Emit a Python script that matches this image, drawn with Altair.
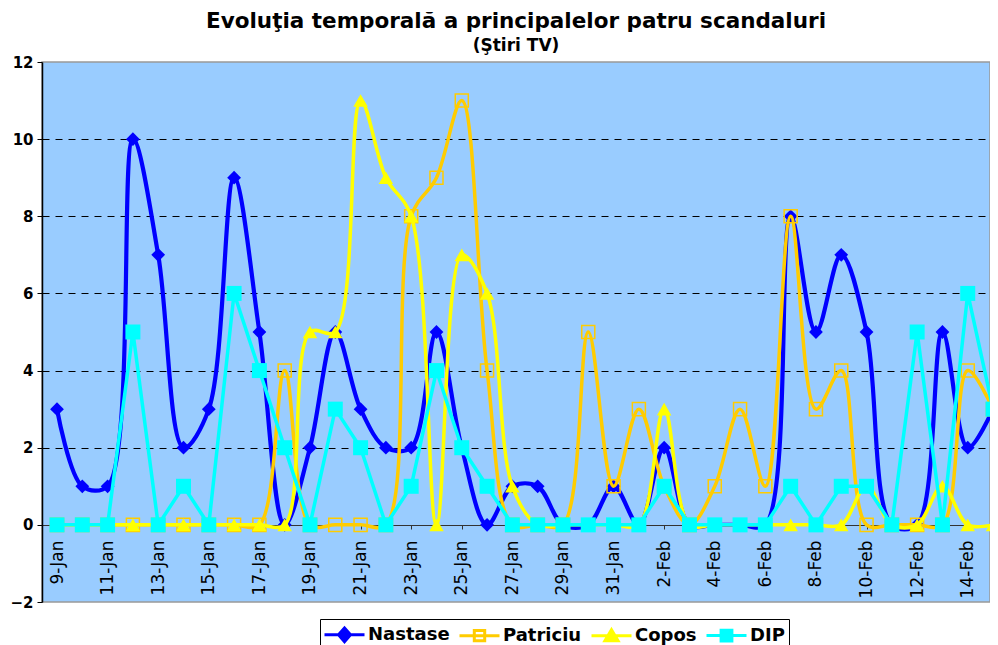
import altair as alt
import pandas as pd

dates = ["9-Jan", "10-Jan", "11-Jan", "12-Jan", "13-Jan", "14-Jan", "15-Jan", "16-Jan",
         "17-Jan", "18-Jan", "19-Jan", "20-Jan", "21-Jan", "22-Jan", "23-Jan", "24-Jan",
         "25-Jan", "26-Jan", "27-Jan", "28-Jan", "29-Jan", "30-Jan", "31-Jan", "1-Feb",
         "2-Feb", "3-Feb", "4-Feb", "5-Feb", "6-Feb", "7-Feb", "8-Feb", "9-Feb",
         "10-Feb", "11-Feb", "12-Feb", "13-Feb", "14-Feb", "15-Feb"]

nastase = [3, 1, 1, 10, 7, 2, 3, 9, 5, 0, 2, 5, 3, 2, 2, 5, 2, 0, 1, 1, 0, 0, 1, 0, 2,
           0, 0, 0, 0, 8, 5, 7, 5, 0, 0, 5, 2, 3]
patriciu = [0, 0, 0, 0, 0, 0, 0, 0, 0, 4, 0, 0, 0, 0, 8, 9, 11, 4, 0, 0, 0, 5, 1, 3, 1,
            0, 1, 3, 1, 8, 3, 4, 0, 0, 0, 0, 4, 3]
copos = [0, 0, 0, 0, 0, 0, 0, 0, 0, 0, 5, 5, 11, 9, 8, 0, 7, 6, 1, 0, 0, 0, 0, 0, 3,
         0, 0, 0, 0, 0, 0, 0, 1, 0, 0, 1, 0, 0]
dip = [0, 0, 0, 5, 0, 1, 0, 6, 4, 2, 0, 3, 2, 0, 1, 4, 2, 1, 0, 0, 0, 0, 0, 0, 1,
       0, 0, 0, 0, 1, 0, 1, 1, 0, 5, 0, 6, 3]

names = ["Nastase", "Patriciu", "Copos", "DIP"]
colors = ["#0000FF", "#FFCC00", "#FFFF00", "#00FFFF"]
fills = ["#0000FF", "transparent", "#FFFF00", "#00FFFF"]
series_values = [nastase, patriciu, copos, dip]

rows = []
for name, vals in zip(names, series_values):
    for i, v in enumerate(vals):
        rows.append({"idx": i, "date": dates[i], "series": name, "value": v})
df = pd.DataFrame(rows)

FONT = "DejaVu Sans"
label_expr = "[" + ",".join("'" + d + "'" for d in dates) + "][datum.value]"

X = alt.X(
    "idx:Q",
    scale=alt.Scale(domain=[-0.593, 36.88], nice=False, zero=False),
    axis=alt.Axis(
        title=None, values=list(range(0, 38, 2)), labelExpr=label_expr,
        labelAngle=270, labelFont=FONT, labelFontSize=17, labelColor="black",
        labelPadding=11, offset=-77, domainColor="#333333", domainWidth=1,
        tickColor="#333333", tickSize=4, grid=False,
        labelOverlap=False, labelBound=False, labelFlush=False,
    ),
)
Y = alt.Y(
    "value:Q",
    scale=alt.Scale(domain=[-2, 12], nice=False, zero=False),
    axis=alt.Axis(
        title=None, values=list(range(-2, 13, 2)), labelFont=FONT, labelFontSize=15,
        labelFontWeight="bold", labelColor="black", labelPadding=4,
        domainColor="black", domainWidth=1.5, tickColor="black", tickSize=5,
        grid=True, gridColor="black", gridDash=[7, 6], gridWidth=1,
        gridOpacity={"condition": {"test": "datum.value == 12 || datum.value == -2 || datum.value == 0", "value": 0}, "value": 1},
    ),
)

base = alt.Chart(df)

specs = [
    ("Nastase", "#0000FF", "catmull-rom", "diamond", True, 190, 1, 4.2),
    ("Patriciu", "#FFCC00", "catmull-rom", "square", False, 170, 1.5, 3.5),
    ("Copos", "#FFFF00", "catmull-rom", "triangle-up", True, 210, 1, 3.5),
    ("DIP", "#00FFFF", "linear", "square", True, 225, 1, 3.5),
]

layers = []
for name, col, interp, shape, filled, size, sw, lw in specs:
    src = base.transform_filter(alt.datum.series == name)
    layers.append(src.mark_line(interpolate=interp, color=col, strokeWidth=lw, clip=True).encode(x=X, y=Y))
    layers.append(src.mark_point(shape=shape, filled=filled, size=size, color=col, opacity=1,
                                 strokeWidth=sw, clip=True).encode(x=X, y=Y))

paths = [
    "M-2,0H2M0,-0.68L0.6,0L0,0.68L-0.6,0Z",
    "M-2,0H2M-0.52,-0.52H0.52V0.52H-0.52Z",
    "M-2,0H2M0,-0.6L0.66,0.52H-0.66Z",
    "M-2,0H2M-0.54,-0.54H0.54V0.54H-0.54Z",
]
LEG = alt.Legend(
    title=None, orient="none", legendX=278, legendY=557, direction="horizontal",
    symbolSize=400, symbolStrokeWidth=3, symbolOffset=9, labelFont=FONT, labelFontSize=18,
    labelFontWeight="bold", labelColor="black", labelOffset=12, columnPadding=3,
    strokeColor="black", padding=4, fillColor="white",
)
legend_layer = base.transform_filter("false").mark_point(filled=True, opacity=1, size=400).encode(
    x=X, y=Y,
    stroke=alt.Stroke("series:N", scale=alt.Scale(domain=names, range=colors), legend=LEG),
    fill=alt.Fill("series:N", scale=alt.Scale(domain=names, range=fills), legend=LEG),
    shape=alt.Shape("series:N", scale=alt.Scale(domain=names, range=paths), legend=LEG),
)
layers.append(legend_layer)

chart = alt.layer(*layers).properties(
    width=948, height=540,
    background="white",
    autosize=alt.AutoSizeParams(type="none"),
    padding={"left": 34, "top": 54, "right": 0, "bottom": 43},
    title=alt.Title(
        "Evoluţia temporală a principalelor patru scandaluri",
        subtitle="(Ştiri TV)", font=FONT, fontSize=21.5, fontWeight="bold", color="black",
        subtitleFont=FONT, subtitleFontSize=17, subtitleFontWeight="bold",
        subtitleColor="black", subtitlePadding=6, anchor="middle", offset=1,
    ),
).configure_view(fill="#99CCFF", stroke="#999999", strokeWidth=1.5)

chart.save("out.html", embed_options={"renderer": "svg", "actions": False})
